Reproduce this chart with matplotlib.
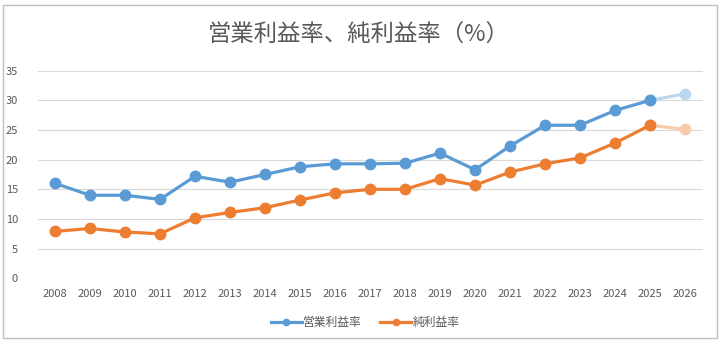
import numpy as np
import matplotlib
matplotlib.use("Agg")
import matplotlib.pyplot as plt
from matplotlib.patches import Rectangle
from matplotlib.lines import Line2D

plt.rcParams['font.family'] = ['Noto Sans CJK JP', 'DejaVu Sans']

years = [str(y) for y in range(2008, 2027)]
op_margin = [16.0, 14.0, 14.0, 13.3, 17.2, 16.2, 17.5, 18.8, 19.3, 19.3,
             19.4, 21.1, 18.3, 22.3, 25.8, 25.8, 28.3, 30.0, 31.1]
net_margin = [7.9, 8.4, 7.8, 7.5, 10.2, 11.1, 11.9, 13.2, 14.4, 15.0,
              15.0, 16.8, 15.7, 17.9, 19.3, 20.3, 22.8, 25.8, 25.1]
labels = ['営業利益率', '純利益率']
n_actual = 18  # last point (2026) is a forecast, drawn faded

blue, blue_light = '#5B9BD5', '#BDD7EE'
orange, orange_light = '#ED7D31', '#F8CBAD'
gray = '#595959'

fig = plt.figure(figsize=(7.23, 3.46), dpi=100)
ax = fig.add_axes([0.0519, 0.1957, 0.9198, 0.6000])

x = np.arange(len(years))
for vals, c, cl in [(op_margin, blue, blue_light), (net_margin, orange, orange_light)]:
    ax.plot(x[n_actual - 1:], vals[n_actual - 1:], color=cl, lw=2.3,
            marker='o', ms=7.5, mec=cl, mfc=cl, zorder=2)
    ax.plot(x[:n_actual], vals[:n_actual], color=c, lw=2.3,
            marker='o', ms=7.5, mec=c, mfc=c, zorder=3)

ax.set_xlim(-0.5, len(years) - 0.5)
ax.set_ylim(0, 35)
ax.set_yticks(np.arange(0, 36, 5))
ax.set_xticks(x)
ax.set_xticklabels(years)
ax.grid(axis='y', color='#D9D9D9', lw=0.8)
ax.set_axisbelow(True)
for s in ax.spines.values():
    s.set_visible(False)
ax.tick_params(length=0, colors=gray, labelsize=8)
ax.tick_params(axis='y', pad=14)
ax.tick_params(axis='x', pad=8)

fig.text(0.496, 0.897, '営業利益率、純利益率（%）', ha='center', va='center',
         fontsize=16.8, color=gray)

handles = [Line2D([], [], color=blue, lw=2.3, marker='o', ms=4.5),
           Line2D([], [], color=orange, lw=2.3, marker='o', ms=4.5)]
fig.legend(handles, labels, loc='center', bbox_to_anchor=(0.505, 0.068), ncol=2,
           frameon=False, fontsize=8.5, labelcolor=gray, handlelength=2.6,
           handletextpad=0.1, columnspacing=1.6)

fig.patches.append(Rectangle((3 / 723, 1 - 338 / 346), 714 / 723, 333 / 346,
                             transform=fig.transFigure, fill=False,
                             edgecolor='#BFBFBF', lw=1))

fig.savefig('out.png', dpi=100)
